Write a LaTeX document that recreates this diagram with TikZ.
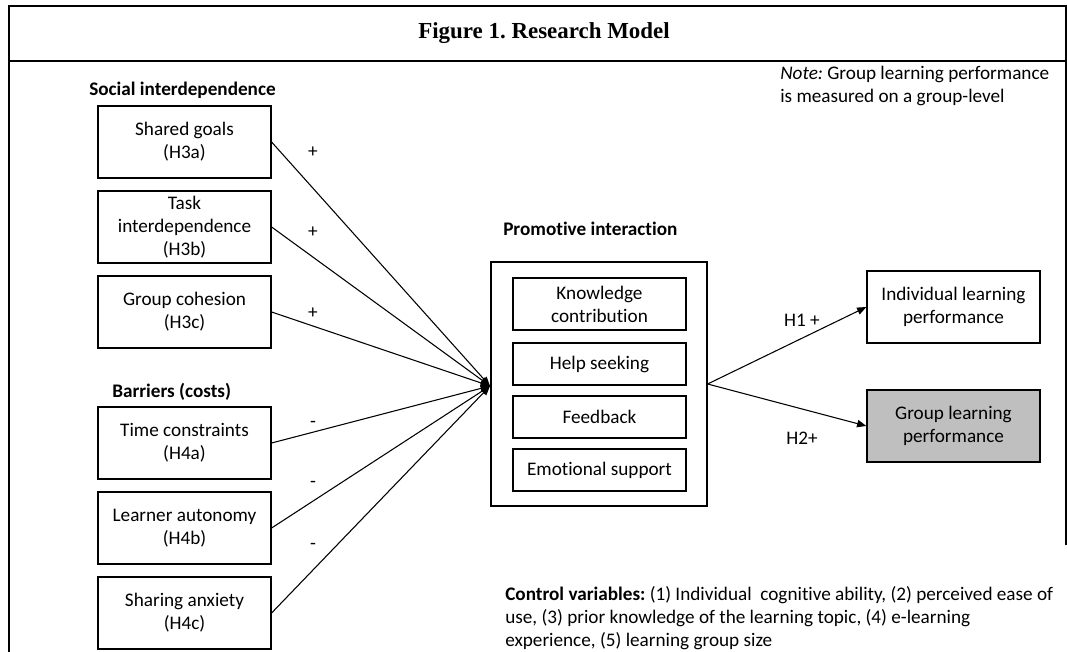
\documentclass[tikz,border=0pt]{standalone}
\usepackage{fontspec}
\setmainfont{Carlito}[Ligatures=NoCommon]
\newfontfamily\titlefont{Liberation Serif}
\usepackage{tikz}
\usetikzlibrary{arrows.meta,positioning,calc}
\frenchspacing
\tikzset{
  >={Triangle[length=7pt, width=5.5pt]},
  txt/.style={font=\fontsize{14.4}{17.3}\selectfont},
  block/.style={txt, draw, line width=0.9pt, rectangle, minimum height=54pt, minimum width=129.75pt, inner sep=0pt, align=center},
  subblock/.style={block, minimum height=31.5pt},
  outerblock/.style={draw, line width=0.9pt, rectangle, minimum height=183pt, minimum width=162pt, inner sep=0pt},
  heading/.style={txt, font=\fontsize{14.4}{17.3}\selectfont\bfseries, anchor=west, inner sep=0pt},
  note/.style={txt, anchor=north west, inner sep=0pt, align=left},
  sign/.style={txt, inner sep=0pt},
  frame/.style={line width=1.2pt},
  conn/.style={->, line width=0.8pt},
}

\begin{document}
\begin{tikzpicture}[x=0.75pt, y=-0.75pt]
    \useasboundingbox (0,0) rectangle (1067,652);

    % outer frame and title
    \draw[frame] (9,652) -- (9,6) -- (1066,6) -- (1066,545);
    \draw[frame] (9,61) -- (1066,61);
    \node[font=\fontsize{17.2}{20}\selectfont\titlefont\bfseries] (title) at (544,33) {Figure 1. Research Model};

    \node[note] (note) at (780,66) {\textit{Note:} Group learning performance\\is measured on a group-level};

    % antecedents
    \node[heading] (soc) at (89,90) {Social interdependence};
    \node[block] (goals) at (184.5,142) {Shared goals\\(H3a)};
    \node[block] (task) at (184.5,227) {Task\\interdependence\\(H3b)};
    \node[block] (coh) at (184.5,312) {Group cohesion\\(H3c)};

    \node[heading] (bar) at (112,392) {Barriers (costs)};
    \node[block] (time) at (184.5,443) {Time constraints\\(H4a)};
    \node[block] (auto) at (184.5,528) {Learner autonomy\\(H4b)};
    \node[block] (anx) at (184.5,613) {Sharing anxiety\\(H4c)};

    % mediator
    \node[heading] (prom) at (503,229) {Promotive interaction};
    \node[outerblock] (pi) at (599,384) {};
    \node[subblock, minimum height=39pt] (kc) at (599.5,304) {Knowledge\\contribution};
    \node[subblock] (hs) at (599.5,364) {Help seeking};
    \node[subblock] (fb) at (599.5,417) {Feedback};
    \node[subblock] (es) at (599.5,470) {Emotional support};

    % outcomes
    \node[block] (ilp) at (953.5,307) {Individual learning\\performance};
    \node[block, fill=black!25] (glp) at (953.5,426) {Group learning\\performance};

    \coordinate (hub) at (490,386);
    \foreach \src in {goals,task,coh,time,auto,anx}
        \draw[conn] (\src.east) -- (hub);

    \draw[conn] (pi.east) -- (ilp.west);
    \draw[conn] (pi.east) -- (glp.west);

    % signs
    \node[sign] (s1) at (313,152) {+};
    \node[sign] (s2) at (313,232) {+};
    \node[sign] (s3) at (313,313) {+};
    \node[sign] (s4) at (313,424) {-};
    \node[sign] (s5) at (313,484) {-};
    \node[sign] (s6) at (313,546) {-};
    \node[sign] (h1) at (802,320) {H1 +};
    \node[sign] (h2) at (802,438) {H2+};

    \node[note] (ctrl) at (505,586) {\textbf{Control variables:} (1) Individual\ \ cognitive ability, (2) perceived ease of\\use, (3) prior knowledge of the learning topic, (4) e-learning\\experience, (5) learning group size};

\end{tikzpicture}
\end{document}
